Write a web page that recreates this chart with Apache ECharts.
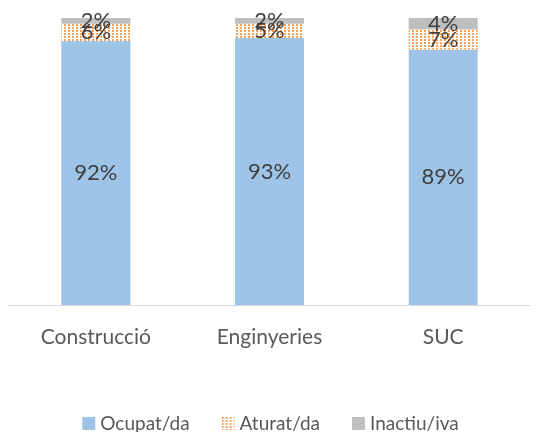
<!DOCTYPE html>
<html lang="ca">
<head>
    <meta charset="UTF-8">
    <title>Situació laboral</title>
    <style>
        *{ margin: 0; padding: 0; }
        body{ background: #fff; }
    </style>
</head>
<body>
<div id="main" style="width: 541px;height: 432px;"></div>
<script src="https://cdn.jsdelivr.net/npm/echarts@6/dist/echarts.min.js"></script>
<script type="text/javascript">
    var categories = ['Construcció', 'Enginyeries', 'SUC'];
    var ocupat = [92, 93, 89];
    var aturat = [6, 5, 7];
    var inactiu = [2, 2, 4];

    var myChart = echarts.init(document.getElementById('main'));
    var font = 'Lato, "Open Sans", sans-serif';

    function lbl(){
        return {
            show: true,
            position: 'inside',
            formatter: '{c}%',
            color: '#404040',
            fontSize: 22,
            fontFamily: font
        };
    }

    myChart.setOption({
        animation: false,
        grid: {
            left: 9,
            right: 11,
            top: 18,
            bottom: 127
        },
        legend: {
            bottom: -6,
            left: 'center',
            itemWidth: 13,
            itemHeight: 13,
            itemGap: 32,
            itemStyle: { borderWidth: 0 },
            icon: 'rect',
            textStyle: { color: '#595959', fontSize: 19, fontFamily: font },
            data: ['Ocupat/da', 'Aturat/da', 'Inactiu/iva']
        },
        xAxis: {
            type: 'category',
            data: categories,
            axisTick: { show: false },
            axisLine: { lineStyle: { color: '#D9D9D9', width: 1 } },
            axisLabel: { color: '#595959', fontSize: 21, fontFamily: font, margin: 22 }
        },
        yAxis: {
            type: 'value',
            min: 0,
            max: 100,
            show: false
        },
        series: [
            {
                name: 'Ocupat/da',
                type: 'bar',
                stack: 'tot',
                barWidth: 69,
                itemStyle: { color: '#9DC3E6' },
                label: lbl(),
                data: ocupat
            },
            {
                name: 'Aturat/da',
                type: 'bar',
                stack: 'tot',
                itemStyle: {
                    color: '#FFFFFF',
                    decal: {
                        symbol: 'rect',
                        symbolSize: 1,
                        color: '#F7A35C',
                        dashArrayX: [2, 2],
                        dashArrayY: [2, 1],
                        rotation: 0
                    }
                },
                label: lbl(),
                data: aturat
            },
            {
                name: 'Inactiu/iva',
                type: 'bar',
                stack: 'tot',
                itemStyle: { color: '#BFBFBF' },
                label: lbl(),
                data: inactiu
            }
        ]
    });
</script>
</body>
</html>
